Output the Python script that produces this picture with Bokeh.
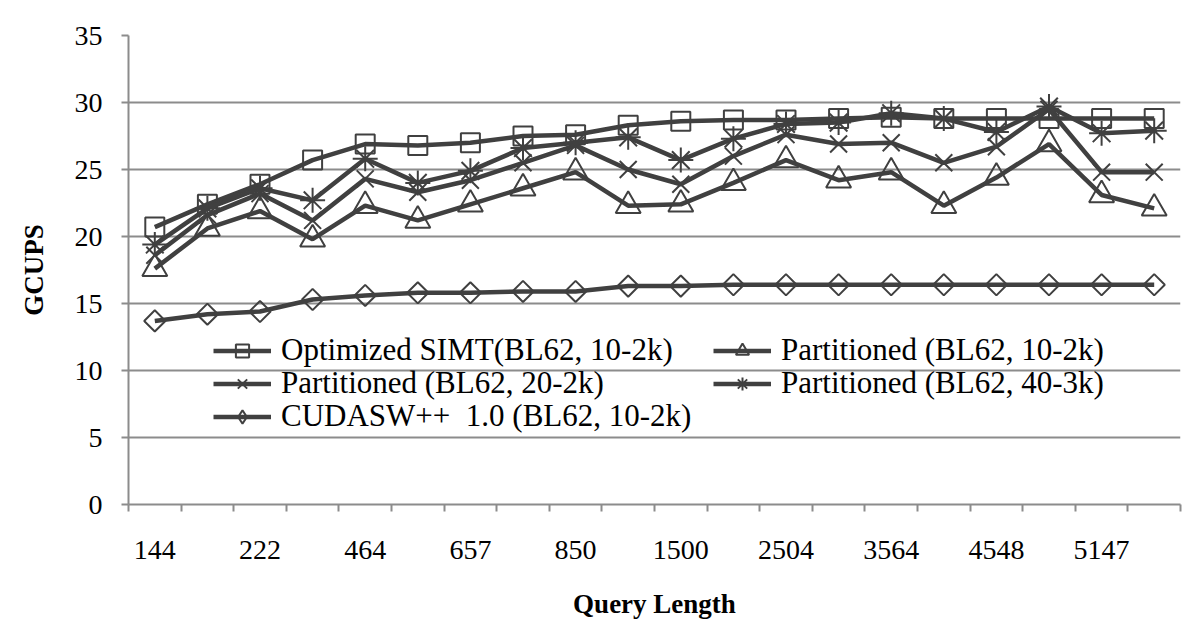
import math
from bokeh.plotting import figure
from bokeh.models import (Range1d, FixedTicker, CustomJSTickFormatter, Legend, LegendItem)
from bokeh.embed import file_html
from bokeh.resources import INLINE

# ---------------- data ----------------
x_labels = ["144", "222", "464", "657", "850", "1500", "2504", "3564", "4548", "5147"]
n_points = 20

simt_10_2k = [20.7, 22.4, 23.9, 25.7, 26.9, 26.8, 27.0, 27.5, 27.6, 28.3,
              28.6, 28.7, 28.7, 28.8, 28.9, 28.8, 28.8, 28.8, 28.8, 28.8]
part_10_2k = [17.6, 20.6, 21.9, 19.8, 22.3, 21.2, 22.4, 23.6, 24.8, 22.3,
              22.4, 24.0, 25.7, 24.2, 24.8, 22.3, 24.4, 26.9, 23.1, 22.1]
part_20_2k = [18.6, 21.6, 23.2, 21.2, 24.3, 23.3, 24.2, 25.5, 26.8, 25.0,
              23.9, 26.0, 27.6, 26.9, 27.0, 25.5, 26.7, 29.5, 24.8, 24.8]
part_40_3k = [19.4, 22.1, 23.6, 22.7, 25.8, 24.0, 24.9, 26.6, 27.0, 27.4,
              25.7, 27.3, 28.4, 28.5, 29.2, 28.8, 27.8, 29.7, 27.7, 27.9]
cudasw_10_2k = [13.7, 14.2, 14.4, 15.3, 15.6, 15.8, 15.8, 15.9, 15.9, 16.3,
                16.3, 16.4, 16.4, 16.4, 16.4, 16.4, 16.4, 16.4, 16.4, 16.4]

# name, values, marker, size, angle, legend marker
series = [
    ("Optimized SIMT(BL62, 10-2k)", simt_10_2k, "square", 19, 0.0, "square"),
    ("Partitioned (BL62, 10-2k)", part_10_2k, "triangle", 25, 0.0, "triangle"),
    ("Partitioned (BL62, 20-2k)", part_20_2k, "x", 24, 0.0, "x"),
    ("Partitioned (BL62, 40-3k)", part_40_3k, "asterisk", 25, 0.0, "asterisk"),
    ("CUDASW++  1.0 (BL62, 10-2k)", cudasw_10_2k, "square", 15, math.pi / 4, "diamond"),
]

# ---------------- figure ----------------
DARK = "#404040"
GRID = "#8c8c8c"
FONT = "Liberation Serif"

p = figure(width=1184, height=621, output_backend="svg", toolbar_location=None,
           x_range=Range1d(0, n_points), y_range=Range1d(0, 35),
           min_border_left=128, min_border_right=4, min_border_top=35, min_border_bottom=117)
p.outline_line_color = None
p.background_fill_color = "white"
p.border_fill_color = "white"

xs = [i + 0.5 for i in range(n_points)]
renderers = {}
for name, ys, marker, size, ang, lmarker in series:
    lr = p.line(xs, ys, line_color=DARK, line_width=4.5)
    sr = p.scatter(xs, ys, marker=marker, size=size, angle=ang, line_color=DARK,
                   line_width=2, fill_color=None)
    if lmarker != marker:
        # hidden renderer used only to draw the legend symbol
        sr = p.scatter(xs, ys, marker=lmarker, size=size, line_color=DARK,
                       line_width=2, fill_color=None, visible=False)
    renderers[name] = [lr, sr]

# y axis
p.yaxis.ticker = FixedTicker(ticks=list(range(0, 36, 5)))
p.yaxis.axis_line_color = GRID
p.yaxis.axis_line_width = 2
p.yaxis.major_tick_line_color = GRID
p.yaxis.major_tick_line_width = 2
p.yaxis.major_tick_out = 7
p.yaxis.major_tick_in = 0
p.yaxis.minor_tick_line_color = None
p.yaxis.major_label_text_font = FONT
p.yaxis.major_label_text_font_size = "28px"
p.yaxis.major_label_text_color = "black"
p.yaxis.major_label_standoff = 19
p.yaxis.axis_label = "GCUPS"
p.yaxis.axis_label_text_font = FONT
p.yaxis.axis_label_text_font_style = "bold"
p.yaxis.axis_label_text_font_size = "27px"
p.yaxis.axis_label_text_color = "black"
p.yaxis.axis_label_standoff = 23

p.ygrid.grid_line_color = GRID
p.ygrid.grid_line_width = 2
p.xgrid.grid_line_color = None

# x axis: labels on every other category, tick marks at category boundaries
p.xaxis.ticker = FixedTicker(ticks=[i + 0.5 for i in range(0, n_points, 2)],
                             minor_ticks=list(range(0, n_points + 1)))
p.xaxis.formatter = CustomJSTickFormatter(args=dict(labels=x_labels), code="""
    const i = Math.round(tick - 0.5);
    return (i % 2 == 0) ? labels[i / 2] : "";
""")
p.xaxis.axis_line_color = GRID
p.xaxis.axis_line_width = 2
p.xaxis.major_tick_line_color = None
p.xaxis.major_tick_out = 0
p.xaxis.major_tick_in = 0
p.xaxis.minor_tick_line_color = GRID
p.xaxis.minor_tick_line_width = 2
p.xaxis.minor_tick_out = 7
p.xaxis.minor_tick_in = 0
p.xaxis.major_label_text_font = FONT
p.xaxis.major_label_text_font_size = "28px"
p.xaxis.major_label_text_color = "black"
p.xaxis.major_label_standoff = 29
p.xaxis.axis_label = "Query Length"
p.xaxis.axis_label_text_font = FONT
p.xaxis.axis_label_text_font_style = "bold"
p.xaxis.axis_label_text_font_size = "27px"
p.xaxis.axis_label_text_color = "black"
p.xaxis.axis_label_standoff = 27

# legend: one single-item legend per cell of the 2-column layout
def make_legend(name, loc):
    lg = Legend(items=[LegendItem(label=name, renderers=renderers[name])],
                location=loc, orientation="vertical",
                background_fill_alpha=0, border_line_color=None,
                padding=0, margin=0, spacing=0,
                glyph_width=58, glyph_height=33, label_height=33,
                label_standoff=10,
                label_text_font=FONT, label_text_font_size="31px",
                label_text_color="black")
    p.add_layout(lg, "center")
    return lg

make_legend(series[0][0], (85, 136))
make_legend(series[1][0], (585, 136))
make_legend(series[2][0], (85, 103))
make_legend(series[3][0], (585, 103))
make_legend(series[4][0], (85, 70))

open("out.html", "w").write(file_html(p, INLINE))
